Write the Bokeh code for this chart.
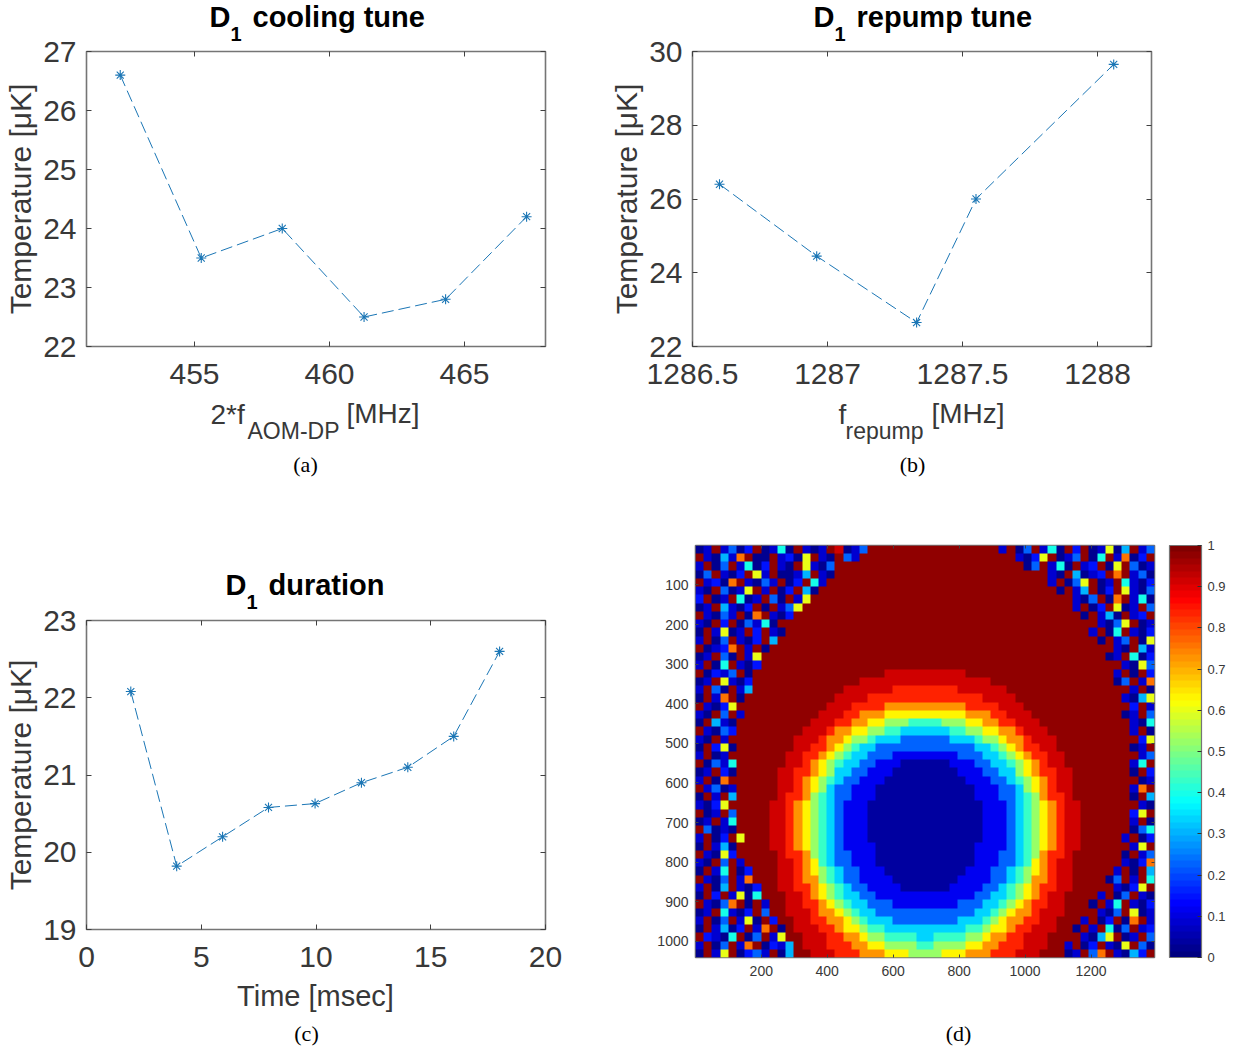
from bokeh.embed import file_html
from bokeh.resources import INLINE
from bokeh.plotting import figure
from bokeh.layouts import column, row
from bokeh.models import (Range1d, FixedTicker, LinearAxis, Label, ColorBar,
                          LinearColorMapper)
import numpy as np

# ---------- data: panel (a)
A_FREQ = [452.25, 455.25, 458.25, 461.28, 464.3, 467.3]
A_TEMP = [26.6, 23.5, 24.0, 22.5, 22.8, 24.2]
A_XTICKS = [455, 460, 465]
A_YTICKS = [22, 23, 24, 25, 26, 27]

# ---------- data: panel (b)
B_FREQ = [1286.6, 1286.96, 1287.33, 1287.55, 1288.06]
B_TEMP = [26.4, 24.45, 22.65, 26.0, 29.65]
B_XTICKS = [1286.5, 1287, 1287.5, 1288]
B_XLABELS = ["1286.5", "1287", "1287.5", "1288"]
B_YTICKS = [22, 24, 26, 28, 30]

# ---------- data: panel (c)
C_TIME = [1.93, 3.93, 5.93, 7.93, 9.96, 11.98, 14, 16, 18]
C_TEMP = [22.08, 19.82, 20.2, 20.58, 20.63, 20.9, 21.1, 21.5, 22.6]
C_XTICKS = [0, 5, 10, 15, 20]
C_YTICKS = [19, 20, 21, 22, 23]

# ---------- data: panel (d), a coarse 50 x 56 reading of the picture
D_XTICKS = [200, 400, 600, 800, 1000, 1200]
D_YTICKS = [100, 200, 300, 400, 500, 600, 700, 800, 900, 1000]
CBAR_TICKS = [0, .1, .2, .3, .4, .5, .6, .7, .8, .9, 1]

# speckled background left of the disk, per image row
NOISE_LEFT = [
    "01X1302X0150X101X9013", "X10417X00X1206X10X31", "1X03X1502X10X6103X", "03X102X61X0014X10",
    "X1207X1031X02X51", "10X3016X1X02X40", "2X01X501X30X16", "01X4102X0X136", "X1031X07X102",
    "10X2X03150X", "0X1601X2X10", "1X03X102X4", "X0127X1X0", "01X30X16", "1X05X102", "X0213X0",
    "01X6102", "1X30X14", "0X17X0", "X1026X", "10X3X1", "0X410", "X1032", "10X1X", "0X260", "1X01X",
    "X0315", "01X20", "1X07X", "X1301", "0X1X4", "1026X", "X01X3", "01X15", "X3010", "1X02X6",
    "0X140X", "X1062X", "10X3X1", "0X15X02", "X103X17", "1X04X102", "0X2X1605", "X1037X0X1",
    "01X5102X3", "1X03X160X2", "0X1402X17X0", "X2105X03X16", "1X03X17X0214", "0X16X0231X04X",
]
# speckled background right of the disk, per image row
NOISE_RIGHT = [
    "1X03X150X2X01604X13", "X1026X013X05X1702X", "03X150X12X06X301", "X10X4012X7X130",
    "1X036X01X5102", "0X14X02X6103", "X103X07X150", "1X02X601X3", "0X140X12X", "X1036X01",
    "1X05X102", "0X13X06", "X10X41", "01X502", "X1063", "1X0X2", "03X17", "X1X0", "1046", "X2X1",
    "01X3", "X105", "1X0", "X26", "01X", "X13", "15X", "0X2", "X01", "17X", "0X4", "X10", "26X",
    "1X0", "X035", "1X02", "X16X", "0X13", "X1027", "1X0X4", "03X1X5", "X1026X", "1X03X10",
    "0X15X102", "X103X601", "1X02X07X1", "0X1X503X12", "X1046X01X3", "1X02X106X30", "X01X37X1042X",
]
SPECKLE_LEVELS = {"0": .02, "1": .09, "2": .15, "3": .22, "4": .3, "5": .4,
                  "6": .6, "7": .75, "8": .83, "9": .91, "X": .97}
BAND_LEVELS = [.04, .12, .23, .33, .43, .53, .63, .73, .83, .91]
DISK_LEVEL = .98
# half-width, in cells from the image's middle, of each colour band per image row
BAND_WIDTHS = [[0] * 10] * 15 + [
    [0, 0, 0, 0, 0, 0, 0, 0, 0, 5.4],
    [0, 0, 0, 0, 0, 0, 0, 0, 0, 8.0],
    [0, 0, 0, 0, 0, 0, 0, 0, 3.8, 9.8],
    [0, 0, 0, 0, 0, 0, 0, 0, 6.9, 11.3],
    [0, 0, 0, 0, 0, 0, 0, 5.3, 8.8, 12.5],
    [0, 0, 0, 0, 0, 0, 4.8, 7.6, 10.3, 13.5],
    [0, 0, 0, 0, 1.7, 5.2, 7.2, 9.2, 11.5, 14.4],
    [0, 0, 0, 3.2, 5.5, 7.4, 8.9, 10.6, 12.5, 15.1],
    [0, 0, 3.3, 6.0, 7.5, 8.9, 10.2, 11.6, 13.4, 15.8],
    [0, 0, 5.8, 7.6, 8.9, 10.1, 11.2, 12.5, 14.1, 16.4],
    [0, 4.4, 7.3, 8.8, 9.9, 11.0, 12.0, 13.2, 14.7, 16.9],
    [3.3, 6.1, 8.5, 9.8, 10.8, 11.8, 12.7, 13.9, 15.2, 17.3],
    [4.5, 7.3, 9.3, 10.6, 11.5, 12.4, 13.3, 14.4, 15.7, 17.7],
    [5.3, 8.2, 10.1, 11.2, 12.1, 13.0, 13.8, 14.8, 16.1, 18.0],
    [5.9, 8.8, 10.6, 11.7, 12.5, 13.4, 14.1, 15.2, 16.4, 18.3],
    [6.3, 9.3, 11.0, 12.0, 12.8, 13.7, 14.4, 15.4, 16.6, 18.4],
    [6.6, 9.6, 11.3, 12.3, 13.1, 13.9, 14.6, 15.6, 16.7, 18.6],
    [6.7, 9.8, 11.4, 12.4, 13.2, 14.0, 14.7, 15.7, 16.8, 18.7],
    [6.8, 9.9, 11.5, 12.5, 13.3, 14.1, 14.8, 15.8, 16.9, 18.7],
    [6.8, 9.9, 11.5, 12.5, 13.3, 14.1, 14.8, 15.8, 16.9, 18.7],
    [6.6, 9.8, 11.4, 12.4, 13.2, 14.0, 14.7, 15.7, 16.8, 18.7],
    [6.4, 9.6, 11.2, 12.2, 13.1, 13.9, 14.6, 15.6, 16.7, 18.6],
    [6.1, 9.3, 11.0, 12.0, 12.8, 13.7, 14.4, 15.5, 16.6, 18.5],
    [5.6, 8.9, 10.6, 11.7, 12.6, 13.4, 14.2, 15.2, 16.4, 18.3],
    [5.0, 8.3, 10.2, 11.3, 12.2, 13.1, 13.9, 15.0, 16.2, 18.1],
    [4.2, 7.7, 9.7, 10.9, 11.8, 12.7, 13.5, 14.7, 16.0, 17.9],
    [2.9, 6.8, 9.1, 10.3, 11.3, 12.2, 13.1, 14.3, 15.6, 17.7],
    [0, 5.7, 8.3, 9.7, 10.7, 11.7, 12.6, 13.9, 15.3, 17.4],
    [0, 4.1, 7.3, 8.8, 10.0, 11.0, 12.0, 13.4, 14.9, 17.1],
    [0, 0, 6.0, 7.8, 9.1, 10.2, 11.3, 12.8, 14.4, 16.7],
    [0, 0, 4.3, 6.6, 8.1, 9.3, 10.5, 12.2, 13.9, 16.3],
    [0, 0, 0, 4.9, 6.8, 8.2, 9.6, 11.4, 13.2, 15.8],
    [0, 0, 0, 1.5, 4.9, 6.8, 8.4, 10.5, 12.5, 15.3],
    [0, 0, 0, 0, 1.0, 4.7, 7.0, 9.4, 11.7, 14.7],
    [0, 0, 0, 0, 0, 2.0, 4.9, 8.1, 10.8, 14.0],
]

TICK_TEXT = "#383838"
FRAME = "#757575"
BLUE = "#1b76b5"
SANS = "Liberation Sans"
SERIF = "Liberation Serif"
COL_SPLIT = 600          # page x where the right column starts
COL2_W = 636


def build_grid():
    cols = 56
    grid = np.zeros((len(BAND_WIDTHS), cols))
    for i, widths in enumerate(BAND_WIDTHS):
        left, right = NOISE_LEFT[i], NOISE_RIGHT[i]
        for j in range(cols):
            if j < len(left):
                grid[i, j] = SPECKLE_LEVELS[left[j]]
            elif j >= cols - len(right):
                grid[i, j] = SPECKLE_LEVELS[right[j - (cols - len(right))]]
            else:
                level = DISK_LEVEL
                for w, b in zip(widths, BAND_LEVELS):
                    if abs(j - 27.5) < w:
                        level = b
                        break
                grid[i, j] = level
    return grid


def jet(n=64):
    out = []
    for i in range(n):
        x = i / (n - 1)
        c = [min(1, max(0, 1.5 - abs(4 * x - k))) for k in (3, 2, 1)]
        out.append("#%02x%02x%02x" % tuple(int(round(v * 255)) for v in c))
    return out


def frame_fig(w, h, left, top, fw, fh, xr, yr):
    p = figure(width=w, height=h, frame_width=fw, frame_height=fh, x_range=xr, y_range=yr,
               min_border_left=left, min_border_top=top, min_border_right=w - left - fw,
               min_border_bottom=h - top - fh, output_backend="svg", toolbar_location=None,
               background_fill_color="white", border_fill_color=None)
    p.grid.visible = False
    p.outline_line_color = FRAME
    p.outline_line_width = 1.6
    return p


def strip(x0, y0, w, h):
    """A text-only band of the page; its scales run in page pixels."""
    p = figure(width=w, height=h, frame_width=w, frame_height=h, x_range=Range1d(x0, x0 + w),
               y_range=Range1d(y0 + h, y0), min_border=0, output_backend="svg",
               toolbar_location=None, border_fill_color=None, background_fill_color=None)
    p.axis.visible = False
    p.grid.visible = False
    p.outline_line_color = None
    return p


def style_axes(p, xticks, yticks, size, xover=None, tick_len=5, xstand=17, ystand=10):
    top = LinearAxis()
    right = LinearAxis()
    p.add_layout(top, "above")
    p.add_layout(right, "right")
    bottom, left = p.below[0], p.left[0]
    for ax, ticks in ((bottom, xticks), (left, yticks), (top, xticks), (right, yticks)):
        ax.ticker = FixedTicker(ticks=ticks)
        ax.axis_line_color = None
        ax.major_tick_in = tick_len
        ax.major_tick_out = 0
        ax.minor_tick_line_color = None
        ax.major_tick_line_color = "#404040"
        ax.major_tick_line_width = 1
        ax.major_label_text_font = SANS
        ax.major_label_text_font_size = size
        ax.major_label_text_color = TICK_TEXT
    for ax, ticks in ((top, xticks), (right, yticks)):
        ax.major_label_overrides = {t: "" for t in ticks}
        ax.major_label_text_font_size = "1px"
        ax.major_label_standoff = 0
    bottom.major_label_standoff = xstand
    left.major_label_standoff = ystand
    if xover:
        bottom.major_label_overrides = xover


def put(p, px, py, text, size, font=SANS, style="normal", color=TICK_TEXT, align="left"):
    p.add_layout(Label(x=px, y=py, text=text, text_font=font, text_font_size=f"{size}px",
                       text_font_style=style, text_color=color, text_align=align,
                       text_baseline="middle"))


def series(p, x, y):
    p.line(x, y, line_color=BLUE, line_width=1, line_dash="12 5")
    p.scatter(x, y, marker="asterisk", size=10, line_color=BLUE, line_width=1.1)


def ylabel(p, standoff):
    ax = p.left[0]
    ax.axis_label = "Temperature [\u03bcK]"
    ax.axis_label_text_font = SANS
    ax.axis_label_text_font_style = "normal"
    ax.axis_label_text_font_size = "30px"
    ax.axis_label_text_color = TICK_TEXT
    ax.axis_label_standoff = standoff


def title(p, xd, x1, xt, mid, text):
    put(p, xd, mid, "D", 29, style="bold", color="black")
    put(p, x1, mid + 17, "1", 20, style="bold", color="black")
    put(p, xt, mid, text, 29, style="bold", color="black")


def caption(p, px, py, text):
    put(p, px, py, text, 22, font=SERIF, color="black", align="center")


def cell(fig):
    return row(fig, spacing=0)


# ---------- left column
sa_top = strip(0, 0, COL_SPLIT, 41)
title(sa_top, 209, 230, 252, 16, "cooling tune")

pa = frame_fig(COL_SPLIT, 351, 86, 10, 459, 295, Range1d(451, 468), Range1d(22, 27))
series(pa, A_FREQ, A_TEMP)
style_axes(pa, A_XTICKS, A_YTICKS, "30px")
ylabel(pa, 3)

s_mid = strip(0, 392, COL_SPLIT, 218)
put(s_mid, 210, 414, "2*f", 28)
put(s_mid, 247, 430, "AOM-DP", 23)
put(s_mid, 346, 413, "[MHz]", 28)
caption(s_mid, 305, 464, "(a)")
title(s_mid, 225, 246, 268, 584, "duration")

pc = frame_fig(COL_SPLIT, 365, 86, 10, 459, 309, Range1d(0, 20), Range1d(19, 23))
series(pc, C_TIME, C_TEMP)
style_axes(pc, C_XTICKS, C_YTICKS, "30px")
ylabel(pc, 3)

s_bot = strip(0, 975, COL_SPLIT, 75)
put(s_bot, 315, 995, "Time [msec]", 29, align="center")
caption(s_bot, 306, 1033, "(c)")

# ---------- right column
sb_top = strip(COL_SPLIT, 0, COL2_W, 41)
title(sb_top, 813, 834, 856, 16, "repump tune")

pb = frame_fig(COL2_W, 351, 92, 10, 459, 295, Range1d(1286.5, 1288.2), Range1d(22, 30))
series(pb, B_FREQ, B_TEMP)
style_axes(pb, B_XTICKS, B_YTICKS, "30px", xover=dict(zip(B_XTICKS, B_XLABELS)))
ylabel(pb, 3)

sb_bot = strip(COL_SPLIT, 392, COL2_W, 138)
put(sb_bot, 838, 414, "f", 28)
put(sb_bot, 845, 430, "repump", 23)
put(sb_bot, 931, 413, "[MHz]", 28)
caption(sb_bot, 912, 464, "(b)")

mapper = LinearColorMapper(palette=jet(64), low=0, high=1)
pd_ = frame_fig(COL2_W, 455, 95, 15, 459, 412, Range1d(0.5, 1392.5), Range1d(1040.5, 0.5))
GRID = build_grid()
pd_.image(image=[GRID], x=0.5, y=0.5, dw=1392, dh=1040, color_mapper=mapper)
style_axes(pd_, D_XTICKS, D_YTICKS, "14px", tick_len=3, xstand=8, ystand=7)
cb = ColorBar(color_mapper=mapper, ticker=FixedTicker(ticks=CBAR_TICKS), width=32, height=412,
              padding=0, location=(15, 0), major_tick_in=4, major_tick_line_color="#303030",
              bar_line_color=FRAME, bar_line_width=1.2, major_label_text_font=SANS,
              major_label_text_font_size="13px", major_label_text_color=TICK_TEXT,
              label_standoff=6)
pd_.add_layout(cb, "right")

sd_bot = strip(COL_SPLIT, 985, COL2_W, 65)
caption(sd_bot, 958, 1033, "(d)")

left_col = column(*[cell(f) for f in (sa_top, pa, s_mid, pc, s_bot)], spacing=0)
right_col = column(*[cell(f) for f in (sb_top, pb, sb_bot, pd_, sd_bot)], spacing=0)
page = row(left_col, right_col, spacing=0)
open("out.html", "w").write(file_html(page, INLINE))
